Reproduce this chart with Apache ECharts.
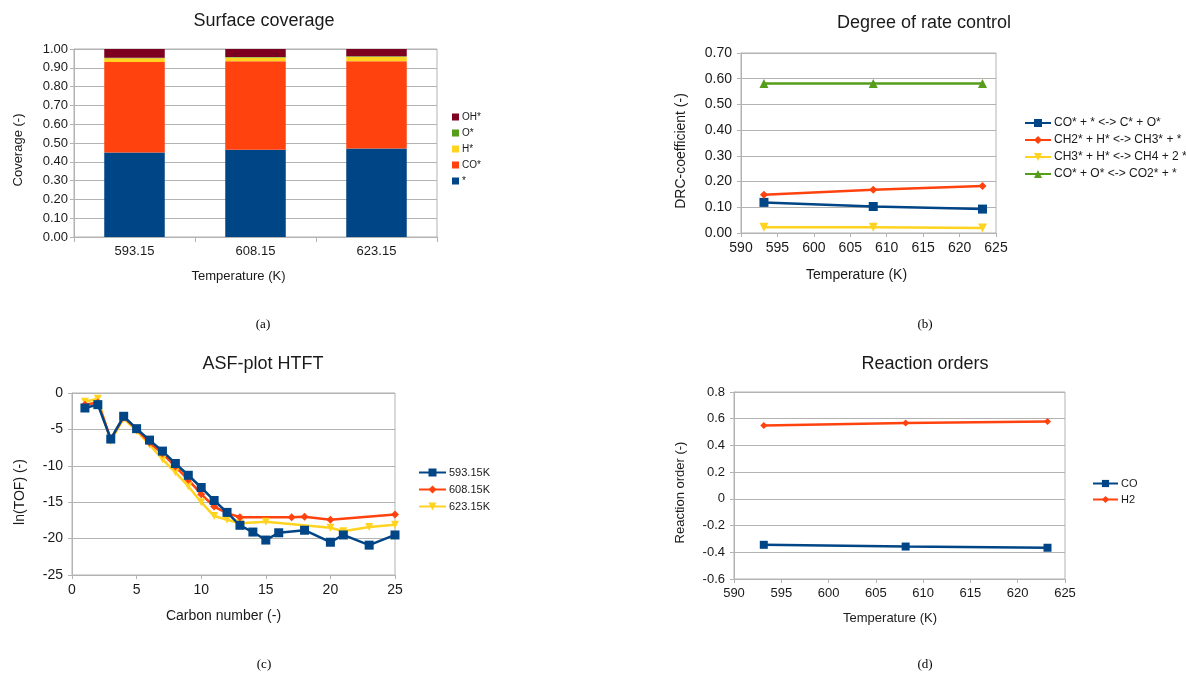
<!DOCTYPE html>
<html><head><meta charset="utf-8">
<script src="https://cdn.jsdelivr.net/npm/echarts@6/dist/echarts.min.js"></script>
<style>html,body{margin:0;padding:0;background:#fff}#c{width:1186px;height:673px}</style>
</head><body><div id="c"></div>
<script>
// (a) Surface coverage
const covCategories = ['593.15', '608.15', '623.15'];
const covVacant = [0.450, 0.464, 0.471];
const covCO = [0.481, 0.471, 0.464];
const covH = [0.020, 0.020, 0.024];
const covO = [0.003, 0.003, 0.003];
const covOH = [0.046, 0.042, 0.038];
const covNames = ['*', 'CO*', 'H*', 'O*', 'OH*'];

// (b) Degree of rate control
const temps = [593.15, 608.15, 623.15];
const drcCOdiss = [0.119, 0.103, 0.093];
const drcCH2H = [0.149, 0.168, 0.183];
const drcCH3H = [0.022, 0.022, 0.019];
const drcCOO = [0.581, 0.581, 0.581];
const drcNames = ['CO* + * <-> C* + O*', 'CH2* + H* <-> CH3* + *', 'CH3* + H* <-> CH4 + 2 *', 'CO* + O* <-> CO2* + *'];

// (c) ASF-plot HTFT
const asfX593 = [1,2,3,4,5,6,7,8,9,10,11,12,13,14,15,16,18,20,21,23,25];
const asfY593 = [-2.06,-1.6,-6.33,-3.2,-4.9,-6.47,-7.98,-9.68,-11.3,-12.98,-14.77,-16.4,-18.17,-19.1,-20.2,-19.2,-18.85,-20.5,-19.5,-20.9,-19.5];
const asfX608 = [1,2,3,4,5,6,7,8,9,10,11,12,13,17,18,20,25];
const asfY608 = [-1.6,-1.3,-6.3,-3.3,-5.0,-6.8,-8.3,-10.1,-11.9,-13.9,-15.6,-16.5,-17.06,-17.06,-17.0,-17.4,-16.7];
const asfX623 = [1,2,3,4,5,6,7,8,9,10,11,12,13,15,20,21,23,25];
const asfY623 = [-1.2,-0.8,-6.6,-3.5,-5.2,-7.1,-9.1,-10.9,-12.8,-15.0,-16.9,-17.4,-17.9,-17.7,-18.5,-19.0,-18.4,-18.1];
const asfNames = ['593.15K', '608.15K', '623.15K'];

// (d) Reaction orders
const ordCO = [-0.344, -0.357, -0.366];
const ordH2 = [0.550, 0.567, 0.580];
const ordNames = ['CO', 'H2'];

const captions = ['(a)', '(b)', '(c)', '(d)'];

const C = { blue: '#004586', orange: '#ff420e', yellow: '#ffd320', green: '#579d1c', red: '#7e0021' };
const FF = "'Liberation Sans', Arial, sans-serif";
const GRID = '#b3b3b3';
const TXT = '#1a1a1a';
const downTri = 'path://M0,0 L10,0 L5,10 Z';

const zip = (xs, ys) => xs.map((x, i) => [x, ys[i]]);

function axisBase(fs) {
  return {
    axisLine: { show: true, onZero: false, lineStyle: { color: GRID } },
    axisTick: { show: true, length: 4, lineStyle: { color: GRID } },
    splitLine: { show: true, lineStyle: { color: GRID } },
    axisLabel: { color: TXT, fontSize: fs, fontFamily: FF, margin: 8 },
    nameTextStyle: { color: TXT, fontFamily: FF }
  };
}
function merge(a, b) {
  const o = Object.assign({}, a);
  for (const k in b) {
    if (b[k] && typeof b[k] === 'object' && !Array.isArray(b[k]) && o[k] && typeof o[k] === 'object') o[k] = Object.assign({}, o[k], b[k]);
    else o[k] = b[k];
  }
  return o;
}

function lineSeries(name, data, color, symbol, size, xi) {
  return {
    type: 'line', name, data, xAxisIndex: xi, yAxisIndex: xi,
    symbol, symbolSize: size, showSymbol: true,
    lineStyle: { color, width: 2.5 }, itemStyle: { color },
    emphasis: { disabled: true }, animation: false
  };
}

const titleStyle = { fontSize: 18, fontWeight: 'normal', color: TXT, fontFamily: FF };

const option = {
  animation: false,
  backgroundColor: '#fff',
  title: [
    { text: 'Surface coverage', left: 264, top: 12, textAlign: 'center', padding: 0, textStyle: titleStyle },
    { text: 'Degree of rate control', left: 924, top: 14, textAlign: 'center', padding: 0, textStyle: titleStyle },
    { text: 'ASF-plot HTFT', left: 263, top: 355, textAlign: 'center', padding: 0, textStyle: titleStyle },
    { text: 'Reaction orders', left: 925, top: 355, textAlign: 'center', padding: 0, textStyle: titleStyle }
  ],
  grid: [
    { left: 74, top: 49, width: 363, height: 188, show: true, borderColor: GRID, borderWidth: 1, backgroundColor: 'transparent' },
    { left: 741, top: 53, width: 255, height: 180, show: true, borderColor: GRID, borderWidth: 1, backgroundColor: 'transparent' },
    { left: 72, top: 393, width: 323, height: 182, show: true, borderColor: GRID, borderWidth: 1, backgroundColor: 'transparent' },
    { left: 734, top: 392, width: 331, height: 187, show: true, borderColor: GRID, borderWidth: 1, backgroundColor: 'transparent' }
  ],
  legend: [
    { data: ['OH*', 'O*', 'H*', 'CO*', '*'], orient: 'vertical', left: 452, top: 112, padding: 0,
      itemWidth: 7, itemHeight: 7, itemGap: 6, icon: 'rect', selectedMode: false,
      textStyle: { fontSize: 10, color: TXT, fontFamily: FF, padding: [0, 0, 0, -2] } },
    { data: drcNames, orient: 'vertical', left: 1024, top: 117, padding: 0,
      itemWidth: 26, itemHeight: 10, itemGap: 5, selectedMode: false,
      textStyle: { fontSize: 12, color: TXT, fontFamily: FF, padding: [0, 0, 0, -2] } },
    { data: asfNames, orient: 'vertical', left: 418, top: 467, padding: 0,
      itemWidth: 27, itemHeight: 10, itemGap: 6, selectedMode: false,
      textStyle: { fontSize: 11, color: TXT, fontFamily: FF, padding: [0, 0, 0, -2] } },
    { data: ordNames, orient: 'vertical', left: 1092, top: 478, padding: 0,
      itemWidth: 25, itemHeight: 9, itemGap: 5, selectedMode: false,
      textStyle: { fontSize: 11, color: TXT, fontFamily: FF, padding: [0, 0, 0, -2] } }
  ],
  xAxis: [
    merge(axisBase(13), { type: 'category', gridIndex: 0, data: covCategories, boundaryGap: true,
      splitLine: { show: false }, axisTick: { show: true, length: 5, alignWithLabel: false },
      name: 'Temperature (K)', nameLocation: 'middle', nameGap: 33,
      nameTextStyle: { fontSize: 13, padding: [0, 34, 0, 0] } }),
    merge(axisBase(14), { type: 'value', gridIndex: 1, min: 590, max: 625, interval: 5, splitLine: { show: false },
      name: 'Temperature (K)', nameLocation: 'middle', nameGap: 35,
      nameTextStyle: { fontSize: 14, padding: [0, 24, 0, 0] } }),
    merge(axisBase(14), { type: 'value', gridIndex: 2, min: 0, max: 25, interval: 5, splitLine: { show: false },
      name: 'Carbon number (-)', nameLocation: 'middle', nameGap: 34,
      nameTextStyle: { fontSize: 14, padding: [0, 20, 0, 0] } }),
    merge(axisBase(13), { type: 'value', gridIndex: 3, min: 590, max: 625, interval: 5, splitLine: { show: false },
      name: 'Temperature (K)', nameLocation: 'middle', nameGap: 33,
      nameTextStyle: { fontSize: 13, padding: [0, 19, 0, 0] } })
  ],
  yAxis: [
    merge(axisBase(13), { type: 'value', gridIndex: 0, min: 0, max: 1, interval: 0.1,
      axisLabel: { formatter: v => v.toFixed(2), margin: 6 },
      name: 'Coverage (-)', nameLocation: 'middle', nameGap: 49,
      nameTextStyle: { fontSize: 13, padding: [0, 14, 0, 0] } }),
    merge(axisBase(14), { type: 'value', gridIndex: 1, min: 0, max: 0.7, interval: 0.1,
      axisLabel: { formatter: v => v.toFixed(2), margin: 9 },
      name: 'DRC-coefficient (-)', nameLocation: 'middle', nameGap: 53,
      nameTextStyle: { fontSize: 14, padding: [0, 16, 0, 0] } }),
    merge(axisBase(14), { type: 'value', gridIndex: 2, min: -25, max: 0, interval: 5,
      axisLabel: { margin: 9 },
      name: 'ln(TOF) (-)', nameLocation: 'middle', nameGap: 45,
      nameTextStyle: { fontSize: 14, padding: [0, 16, 0, 0] } }),
    merge(axisBase(13), { type: 'value', gridIndex: 3, min: -0.6, max: 0.8, interval: 0.2,
      axisLabel: { formatter: v => String(Number(v.toFixed(1)) || 0), margin: 9 },
      name: 'Reaction order (-)', nameLocation: 'middle', nameGap: 47,
      nameTextStyle: { fontSize: 13, padding: [0, 14, 0, 0] } })
  ],
  series: [
    ...[covVacant, covCO, covH, covO, covOH].map((d, i) => ({
      type: 'bar', name: covNames[i], data: d, stack: 'cov', xAxisIndex: 0, yAxisIndex: 0,
      barWidth: '50%', itemStyle: { color: [C.blue, C.orange, C.yellow, C.green, C.red][i] },
      emphasis: { disabled: true }, animation: false
    })),
    lineSeries(drcNames[0], zip(temps, drcCOdiss), C.blue, 'rect', 9, 1),
    lineSeries(drcNames[1], zip(temps, drcCH2H), C.orange, 'diamond', 8, 1),
    lineSeries(drcNames[2], zip(temps, drcCH3H), C.yellow, downTri, 9, 1),
    lineSeries(drcNames[3], zip(temps, drcCOO), C.green, 'triangle', 9, 1),
    lineSeries(asfNames[2], zip(asfX623, asfY623), C.yellow, downTri, 8, 2),
    lineSeries(asfNames[1], zip(asfX608, asfY608), C.orange, 'diamond', 8, 2),
    lineSeries(asfNames[0], zip(asfX593, asfY593), C.blue, 'rect', 9, 2),
    lineSeries(ordNames[0], zip(temps, ordCO), C.blue, 'rect', 8, 3),
    lineSeries(ordNames[1], zip(temps, ordH2), C.orange, 'diamond', 7, 3)
  ],
  graphic: [
    [263, 325], [925, 325], [264, 665], [925, 665]
  ].map((p, i) => ({
    type: 'text', x: p[0], y: p[1],
    style: { text: captions[i], fontSize: 13, fontFamily: "'Liberation Serif', 'Times New Roman', serif", fill: '#000', align: 'center', verticalAlign: 'middle' }
  }))
};

const chart = echarts.init(document.getElementById('c'), null, { renderer: 'canvas' });
chart.setOption(option);
</script>
</body></html>
